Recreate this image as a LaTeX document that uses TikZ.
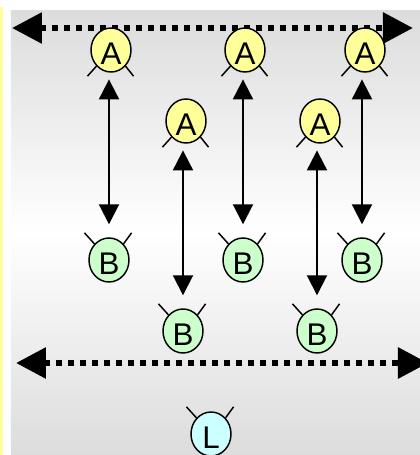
\documentclass[tikz,border=0pt]{standalone}
\usepackage{fontspec}
\setmainfont{Liberation Sans}
\usetikzlibrary{arrows.meta,shapes.geometric}
\definecolor{nodea}{HTML}{FFFF99}
\definecolor{nodeb}{HTML}{CCFFCC}
\definecolor{nodel}{HTML}{CCFFFF}
\definecolor{panelgrey}{HTML}{DCDCDC}
\tikzset{
  peer/.style={ellipse,draw=black,line width=1.1pt,inner sep=0pt,minimum width=30pt,minimum height=33pt,
    font=\fontsize{23.5pt}{23.5pt}\selectfont,text height=21.75pt,text depth=0pt},
  antenna/.style={line width=1.1pt},
  wire/.style={line width=1.5pt,{Triangle[length=15pt,width=15pt]}-{Triangle[length=15pt,width=15pt]},shorten <=5pt,shorten >=9.75pt},
  bus/.style={line width=4.5pt,dash pattern=on 4.5pt off 4.5pt,{Triangle[length=22.5pt,width=22.5pt]}-{Triangle[length=22.5pt,width=22.5pt]}}
}
\begin{document}
\begin{tikzpicture}[x=0.75pt,y=-0.75pt]
  \useasboundingbox (0,0) rectangle (420,455);
  \clip (0,0) rectangle (420,455);
  \fill[nodea] (0,7) rectangle (3,455);
  \shade[top color=panelgrey,bottom color=panelgrey,middle color=white] (11,10) rectangle (420,455);
  \coordinate (topl) at (12,28);
  \coordinate (topr) at (413,28);
  \coordinate (botl) at (16,363);
  \coordinate (botr) at (428,363);
  \draw[bus] (topl) -- (topr);
  \draw[bus] (botl) -- (botr);
  \draw
    (111,50) node[peer,fill=nodea] (a1){A}
    (245,50) node[peer,fill=nodea] (a2){A}
    (365,50) node[peer,fill=nodea] (a3){A}
    (186,121) node[peer,fill=nodea] (a4){A}
    (320,121) node[peer,fill=nodea] (a5){A}
    (109,260) node[peer,fill=nodeb] (b1){B}
    (243,260) node[peer,fill=nodeb] (b2){B}
    (362,260) node[peer,fill=nodeb] (b3){B}
    (183,331) node[peer,fill=nodeb] (b4){B}
    (317,331) node[peer,fill=nodeb] (b5){B}
    (211,434) node[peer,fill=nodel] (l1){L};
  \foreach \n in {a1,a2,a3,a4,a5} {
    \draw[antenna] (\n.-132) -- ++(-9,10);
    \draw[antenna] (\n.-48) -- ++(8,10);
  }
  \foreach \n in {b1,b2,b3,b4,b5,l1} {
    \draw[antenna] (\n.132) -- ++(-10,-11);
    \draw[antenna] (\n.48) -- ++(8,-11);
  }
  \begin{scope}
    \draw[wire] (a1.south -| b1.north) to (b1.north);
    \draw[wire] (a2.south -| b2.north) to (b2.north);
    \draw[wire] (a3.south -| b3.north) to (b3.north);
    \draw[wire] (a4.south -| b4.north) to (b4.north);
    \draw[wire] (a5.south -| b5.north) to (b5.north);
  \end{scope}
\end{tikzpicture}
\end{document}
